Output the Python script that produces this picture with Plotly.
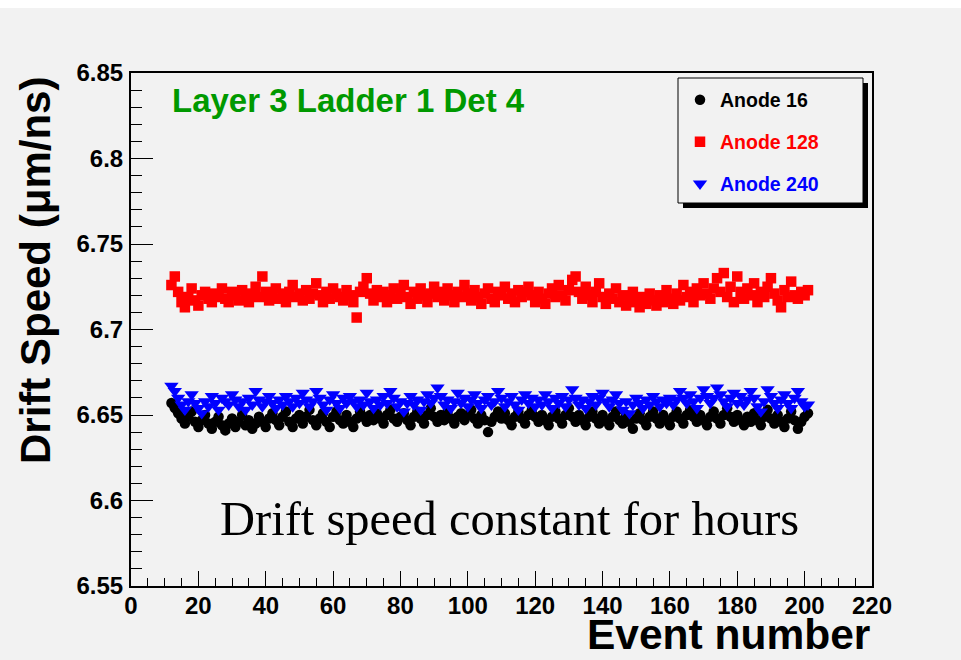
import plotly.graph_objects as go

# ---------------- data ----------------
events = list(range(12, 202))

anode16 = [
    6.657, 6.654, 6.651, 6.648, 6.645, 6.649, 6.652, 6.646, 6.643, 6.647,
    6.650, 6.645, 6.642, 6.646, 6.649, 6.644, 6.641, 6.645, 6.648, 6.643,
    6.646, 6.650, 6.644, 6.647, 6.642, 6.645, 6.649, 6.646, 6.643, 6.648,
    6.651, 6.647, 6.644, 6.649, 6.652, 6.646, 6.643, 6.648, 6.650, 6.645,
    6.649, 6.653, 6.647, 6.644, 6.648, 6.651, 6.646, 6.643, 6.649, 6.652,
    6.647, 6.645, 6.650, 6.646, 6.643, 6.648, 6.652, 6.649, 6.646, 6.650,
    6.647, 6.651, 6.648, 6.645, 6.650, 6.653, 6.648, 6.646, 6.649, 6.651,
    6.647, 6.644, 6.649, 6.652, 6.648, 6.645, 6.650, 6.654, 6.649, 6.646,
    6.650, 6.647, 6.652, 6.648, 6.645, 6.649, 6.651, 6.647, 6.650, 6.653,
    6.648, 6.645, 6.650, 6.647, 6.640, 6.646, 6.649, 6.652, 6.648, 6.651,
    6.647, 6.644, 6.649, 6.652, 6.648, 6.645, 6.650, 6.653, 6.649, 6.646,
    6.650, 6.647, 6.644, 6.649, 6.652, 6.648, 6.645, 6.650, 6.654, 6.649,
    6.646, 6.650, 6.647, 6.644, 6.649, 6.652, 6.648, 6.645, 6.650, 6.647,
    6.644, 6.649, 6.652, 6.647, 6.645, 6.650, 6.646, 6.642, 6.648, 6.651,
    6.647, 6.644, 6.649, 6.652, 6.648, 6.645, 6.650, 6.647, 6.644, 6.649,
    6.652, 6.648, 6.645, 6.650, 6.653, 6.649, 6.646, 6.650, 6.647, 6.644,
    6.649, 6.652, 6.648, 6.645, 6.650, 6.654, 6.649, 6.646, 6.650, 6.647,
    6.644, 6.649, 6.646, 6.651, 6.647, 6.644, 6.649, 6.653, 6.648, 6.645,
    6.650, 6.646, 6.643, 6.648, 6.652, 6.647, 6.642, 6.646, 6.649, 6.651,
]

anode128 = [
    6.726, 6.731, 6.722, 6.716, 6.713, 6.719, 6.724, 6.717, 6.714, 6.720,
    6.722, 6.718, 6.716, 6.721, 6.719, 6.724, 6.718, 6.716, 6.722, 6.720,
    6.717, 6.723, 6.719, 6.716, 6.721, 6.725, 6.719, 6.731, 6.722, 6.717,
    6.720, 6.724, 6.718, 6.721, 6.716, 6.722, 6.726, 6.719, 6.721, 6.717,
    6.723, 6.718, 6.721, 6.727, 6.720, 6.716, 6.722, 6.718, 6.724, 6.721,
    6.719, 6.717, 6.723, 6.720, 6.716, 6.707, 6.722, 6.725, 6.730, 6.721,
    6.717, 6.723, 6.719, 6.722, 6.716, 6.720, 6.724, 6.718, 6.721, 6.726,
    6.719, 6.715, 6.722, 6.718, 6.724, 6.720, 6.716, 6.721, 6.725, 6.719,
    6.722, 6.717, 6.724, 6.720, 6.716, 6.722, 6.719, 6.726, 6.721, 6.717,
    6.723, 6.719, 6.715, 6.721, 6.724, 6.718, 6.716, 6.722, 6.720, 6.725,
    6.718, 6.721, 6.716, 6.723, 6.719, 6.722, 6.725, 6.720, 6.716, 6.722,
    6.718, 6.715, 6.721, 6.724, 6.719, 6.726, 6.720, 6.717, 6.723, 6.729,
    6.731, 6.722, 6.718, 6.725, 6.720, 6.716, 6.722, 6.727, 6.719, 6.715,
    6.721, 6.718, 6.724, 6.716, 6.720, 6.714, 6.718, 6.722, 6.716, 6.713,
    6.719, 6.715, 6.721, 6.717, 6.714, 6.720, 6.716, 6.723, 6.718, 6.715,
    6.721, 6.717, 6.726, 6.719, 6.722, 6.716, 6.724, 6.720, 6.727, 6.721,
    6.718, 6.724, 6.730, 6.722, 6.733, 6.719, 6.725, 6.716, 6.731, 6.722,
    6.718, 6.724, 6.720, 6.727, 6.716, 6.722, 6.719, 6.725, 6.730, 6.721,
    6.717, 6.713, 6.723, 6.719, 6.728, 6.720, 6.718, 6.722, 6.720, 6.723,
]

anode240 = [
    6.667, 6.664, 6.660, 6.656, 6.653, 6.658, 6.662, 6.657, 6.654, 6.651,
    6.658, 6.655, 6.661, 6.657, 6.653, 6.660, 6.658, 6.656, 6.662, 6.659,
    6.655, 6.658, 6.653, 6.660, 6.656, 6.664, 6.659, 6.655, 6.658, 6.661,
    6.657, 6.654, 6.659, 6.656, 6.661, 6.658, 6.655, 6.660, 6.657, 6.663,
    6.659, 6.655, 6.658, 6.664, 6.660, 6.656, 6.653, 6.659, 6.662, 6.657,
    6.654, 6.660, 6.657, 6.661, 6.658, 6.655, 6.659, 6.656, 6.663, 6.658,
    6.654, 6.659, 6.656, 6.661, 6.657, 6.664, 6.660, 6.655, 6.658, 6.652,
    6.657, 6.661, 6.656, 6.659, 6.653, 6.658, 6.662, 6.657, 6.660, 6.666,
    6.661, 6.656, 6.659, 6.654, 6.658, 6.663, 6.657, 6.660, 6.655, 6.659,
    6.662, 6.657, 6.654, 6.659, 6.661, 6.656, 6.658, 6.664, 6.660, 6.655,
    6.658, 6.661, 6.656, 6.653, 6.659, 6.662, 6.657, 6.660, 6.655, 6.659,
    6.656, 6.662, 6.658, 6.654, 6.660, 6.657, 6.661, 6.655, 6.659, 6.665,
    6.660, 6.656, 6.659, 6.654, 6.658, 6.661, 6.656, 6.660, 6.663, 6.658,
    6.655, 6.659, 6.662, 6.657, 6.653, 6.658, 6.651, 6.656, 6.660, 6.657,
    6.654, 6.659, 6.656, 6.661, 6.658, 6.655, 6.659, 6.657, 6.660, 6.656,
    6.659, 6.664, 6.660, 6.657, 6.662, 6.658, 6.654, 6.660, 6.665, 6.661,
    6.657, 6.660, 6.666, 6.662, 6.658, 6.655, 6.660, 6.663, 6.657, 6.661,
    6.656, 6.659, 6.664, 6.660, 6.655, 6.652, 6.658, 6.665, 6.661, 6.657,
    6.654, 6.659, 6.662, 6.657, 6.654, 6.660, 6.664, 6.658, 6.655, 6.656,
]

series_names = ["Anode 16", "Anode 128", "Anode 240"]
x_ticks = [0, 20, 40, 60, 80, 100, 120, 140, 160, 180, 200, 220]
y_ticks = [6.55, 6.6, 6.65, 6.7, 6.75, 6.8, 6.85]
y_ticklabels = ["6.55", "6.6", "6.65", "6.7", "6.75", "6.8", "6.85"]

# ---------------- figure ----------------
W, H = 961, 660
L, R, T, B = 131, 89, 73, 74
PW, PH = W - L - R, H - T - B
BG = "#f2f2f2"
SANS = "Liberation Sans"


def px(x):
    return (x - L) / PW


def py(y):
    return (H - B - y) / PH


fig = go.Figure()
fig.add_trace(go.Scatter(
    x=events, y=anode16, mode="markers", name=series_names[0],
    marker=dict(symbol="circle", size=10.5, color="#000000", line=dict(width=0)),
    legend="legend"))
fig.add_trace(go.Scatter(
    x=events, y=anode128, mode="markers", name=series_names[1],
    marker=dict(symbol="square", size=10.5, color="#ff0000", line=dict(width=0)),
    legend="legend2"))
fig.add_trace(go.Scatter(
    x=events, y=anode240, mode="markers", name=series_names[2],
    marker=dict(symbol="triangle-down", size=12.5, color="#0000ff", line=dict(width=0)),
    legend="legend3"))

leg_common = dict(bgcolor="rgba(0,0,0,0)", borderwidth=0, xanchor="left",
                  yanchor="middle", x=px(680), itemclick=False)
fig.update_layout(
    legend=dict(**leg_common, y=py(100), font=dict(family=SANS, size=19.5, weight="bold", color="#000000")),
    legend2=dict(**leg_common, y=py(142), font=dict(family=SANS, size=19.5, weight="bold", color="#ff0000")),
    legend3=dict(**leg_common, y=py(184), font=dict(family=SANS, size=19.5, weight="bold", color="#0000ff")),
)

fig.update_layout(
    width=W, height=H,
    margin=dict(l=L, r=R, t=T, b=B, pad=0),
    paper_bgcolor=BG, plot_bgcolor=BG,
    showlegend=True,
    font=dict(family=SANS, color="black"),
    xaxis=dict(
        range=[0, 220], tickmode="array", tickvals=x_ticks,
        ticktext=[str(v) for v in x_ticks],
        ticks="inside", ticklen=15, tickwidth=1.3, tickcolor="black",
        minor=dict(dtick=5, ticks="inside", ticklen=8, tickwidth=1.3, tickcolor="black", showgrid=False),
        showgrid=False, zeroline=False,
        showline=True, linecolor="black", linewidth=2, mirror=True,
        tickfont=dict(family=SANS, size=24, weight="bold", color="black"),
        ticklabelstandoff=-3,
    ),
    yaxis=dict(
        range=[6.55, 6.85], tickmode="array", tickvals=y_ticks, ticktext=y_ticklabels,
        ticks="inside", ticklen=22, tickwidth=1.3, tickcolor="black",
        minor=dict(dtick=0.01, tick0=6.55, ticks="inside", ticklen=11, tickwidth=1.3, tickcolor="black", showgrid=False),
        showgrid=False, zeroline=False,
        showline=True, linecolor="black", linewidth=2, mirror=True,
        tickfont=dict(family=SANS, size=24, weight="bold", color="black"),
        ticklabelstandoff=1,
    ),
)

# white strip at very top of page
fig.add_shape(type="rect", xref="paper", yref="paper",
              x0=px(0), x1=px(W), y0=py(8), y1=py(0),
              fillcolor="white", line=dict(width=0), layer="below")

# legend shadow and box
fig.add_shape(type="rect", xref="paper", yref="paper",
              x0=px(683), x1=px(868), y0=py(208), y1=py(83),
              fillcolor="black", line=dict(width=0), layer="above")
fig.add_shape(type="rect", xref="paper", yref="paper",
              x0=px(678), x1=px(863), y0=py(203), y1=py(78),
              fillcolor=BG, line=dict(color="black", width=1), layer="above")

annotations = [
    dict(text="Drift Speed (μm/ns)", x=px(35), y=py(271), textangle=-90,
         xanchor="center", yanchor="middle",
         font=dict(family=SANS, size=42, weight="bold", color="black")),
    dict(text="Event number", x=px(871), y=py(659), xanchor="right", yanchor="bottom",
         font=dict(family=SANS, size=42.5, weight="bold", color="black"), borderpad=0),
    dict(text="Layer 3 Ladder 1 Det 4", x=px(170), y=py(100), xanchor="left", yanchor="middle",
         font=dict(family=SANS, size=33, weight="bold", color="#009900")),
    dict(text="Drift speed constant for hours", x=px(509), y=py(518),
         xanchor="center", yanchor="middle",
         font=dict(family="Liberation Serif", size=48.5, color="black")),
]
for a in annotations:
    a.update(xref="paper", yref="paper", showarrow=False)
fig.update_layout(annotations=annotations)

fig.write_html("out.html")
